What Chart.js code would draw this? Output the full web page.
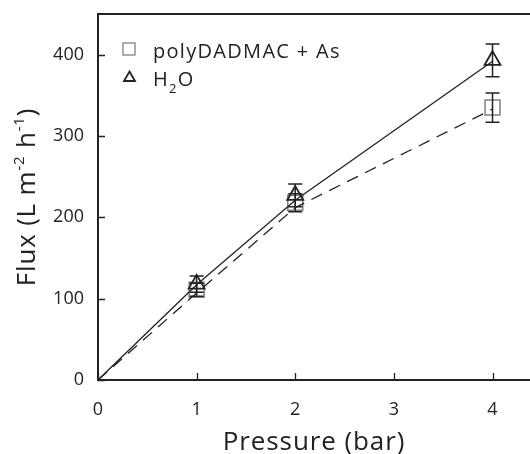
<!DOCTYPE html>
<html>
<head>
<meta charset="utf-8">
<script src="https://cdn.jsdelivr.net/npm/chart.js@4.4.1/dist/chart.umd.min.js"></script>
<style>
  html, body { margin: 0; padding: 0; background: #fff; }
  #wrap { width: 530px; height: 454px; }
</style>
</head>
<body>
<div id="wrap"><canvas id="fluxChart"></canvas></div>
<script>
// measured points
const pressure = [1, 2, 4];
const fluxPoly = [111, 218, 335];
const errPoly = [8, 11, 18];
const fluxWater = [118, 227, 393];
const errWater = [10, 14, 20];

// trend lines (start at origin)
const lineX = [0, 1, 2, 4];
const linePoly = [0, 107, 212, 333];
const lineWater = [0, 117, 221, 392];

const xTicks = [0, 1, 2, 3, 4];
const yTicks = [0, 100, 200, 300, 400];

const INK = '#222';
const FONT = "'Open Sans', sans-serif";

const toXY = (xs, ys) => xs.map((x, i) => ({ x: x, y: ys[i] }));

const errorBars = {
    id: 'errorBars',
    afterDatasetsDraw(chart) {
        const { ctx, scales: { x, y } } = chart;
        const sets = [[fluxPoly, errPoly], [fluxWater, errWater]];
        ctx.save();
        ctx.strokeStyle = INK;
        ctx.lineWidth = 1.5;
        sets.forEach(([vals, errs]) => {
            pressure.forEach((p, i) => {
                const px = x.getPixelForValue(p);
                const top = y.getPixelForValue(vals[i] + errs[i]);
                const bot = y.getPixelForValue(vals[i] - errs[i]);
                ctx.beginPath();
                ctx.moveTo(px, top); ctx.lineTo(px, bot);
                ctx.moveTo(px - 7, top); ctx.lineTo(px + 7, top);
                ctx.moveTo(px - 7, bot); ctx.lineTo(px + 7, bot);
                ctx.stroke();
            });
        });
        ctx.restore();
    }
};

const decorations = {
    id: 'decorations',
    afterDraw(chart) {
        const { ctx, chartArea: a, scales: { x, y } } = chart;
        ctx.save();
        ctx.strokeStyle = INK;

        // top frame line
        ctx.lineWidth = 2;
        ctx.beginPath();
        ctx.moveTo(a.left, a.top); ctx.lineTo(a.right, a.top);
        ctx.stroke();

        // inward tick marks
        ctx.lineWidth = 1.3;
        ctx.beginPath();
        yTicks.forEach(v => {
            const py = Math.round(y.getPixelForValue(v)) + 0.5;
            ctx.moveTo(a.left, py); ctx.lineTo(a.left + 7, py);
        });
        xTicks.forEach(v => {
            const px = Math.round(x.getPixelForValue(v)) + 0.5;
            ctx.moveTo(px, a.bottom); ctx.lineTo(px, a.bottom - 7);
        });
        ctx.stroke();

        // legend
        ctx.strokeStyle = '#808080';
        ctx.lineWidth = 1.3;
        ctx.strokeRect(123, 43, 12, 12);
        ctx.strokeStyle = INK;
        ctx.lineWidth = 1.8;
        ctx.beginPath();
        ctx.moveTo(129.5, 71.5); ctx.lineTo(135, 81); ctx.lineTo(124, 81);
        ctx.closePath();
        ctx.stroke();

        ctx.fillStyle = INK;
        ctx.textBaseline = 'alphabetic';
        ctx.textAlign = 'left';
        ctx.letterSpacing = '1.3px';
        ctx.font = '20px ' + FONT;
        ctx.fillText('polyDADMAC + As', 153, 58);
        ctx.fillText('H', 153, 86);
        let w = ctx.measureText('H').width;
        ctx.font = '13px ' + FONT;
        ctx.fillText('2', 153 + w, 93);
        w += ctx.measureText('2').width;
        ctx.font = '20px ' + FONT;
        ctx.fillText('O', 153 + w, 86);

        // x title
        ctx.letterSpacing = '0.9px';
        ctx.font = '26px ' + FONT;
        ctx.textAlign = 'center';
        ctx.fillText('Pressure (bar)', 314, 450);

        // y title with superscripts
        ctx.letterSpacing = '0.8px';
        const parts = [
            ['Flux (L m', 26, 0], ['-2', 15, -11], [' h', 26, 0], ['-1', 15, -11], [')', 26, 0]
        ];
        let total = 0;
        parts.forEach(p => { ctx.font = p[1] + 'px ' + FONT; total += ctx.measureText(p[0]).width; });
        ctx.translate(35, 197);
        ctx.rotate(-Math.PI / 2);
        ctx.textAlign = 'left';
        let cx = -total / 2;
        parts.forEach(p => {
            ctx.font = p[1] + 'px ' + FONT;
            ctx.fillText(p[0], cx, p[2]);
            cx += ctx.measureText(p[0]).width;
        });
        ctx.restore();
    }
};

new Chart(document.getElementById('fluxChart'), {
    type: 'scatter',
    data: {
        datasets: [
            {
                label: 'H2O line',
                data: toXY(lineX, lineWater),
                showLine: true,
                borderColor: INK,
                borderWidth: 1.3,
                pointRadius: 0
            },
            {
                label: 'polyDADMAC line',
                data: toXY(lineX, linePoly),
                showLine: true,
                borderColor: INK,
                borderWidth: 1.3,
                borderDash: [12, 8],
                pointRadius: 0
            },
            {
                label: 'H2O',
                data: toXY(pressure, fluxWater),
                pointStyle: 'triangle',
                pointRadius: 9.2,
                borderColor: INK,
                borderWidth: 1.8,
                backgroundColor: 'rgba(0,0,0,0)'
            },
            {
                label: 'polyDADMAC + As',
                data: toXY(pressure, fluxPoly),
                pointStyle: 'rect',
                pointRadius: 10.6,
                borderColor: '#808080',
                borderWidth: 1.5,
                backgroundColor: 'rgba(0,0,0,0)'
            }
        ]
    },
    options: {
        responsive: true,
        maintainAspectRatio: false,
        animation: false,
        layout: { autoPadding: false, padding: { top: 14, right: 0, left: 0, bottom: 0 } },
        plugins: {
            legend: { display: false },
            tooltip: { enabled: false }
        },
        scales: {
            x: {
                type: 'linear',
                min: 0,
                max: 4.38,
                afterBuildTicks: s => { s.ticks = xTicks.map(v => ({ value: v })); },
                afterFit: s => { s.height = 74; s.paddingLeft = 0; s.paddingRight = 0; },
                grid: { display: false, drawTicks: false },
                border: { display: true, color: INK, width: 2 },
                ticks: { color: INK, padding: 19, font: { family: FONT, size: 18 } }
            },
            y: {
                min: 0,
                max: 450,
                afterBuildTicks: s => { s.ticks = yTicks.map(v => ({ value: v })); },
                afterFit: s => { s.width = 98; s.paddingTop = 0; s.paddingBottom = 0; },
                grid: { display: false, drawTicks: false },
                border: { display: true, color: INK, width: 2 },
                ticks: { color: INK, padding: 14, font: { family: FONT, size: 18 } }
            }
        }
    },
    plugins: [errorBars, decorations]
});
</script>
</body>
</html>
